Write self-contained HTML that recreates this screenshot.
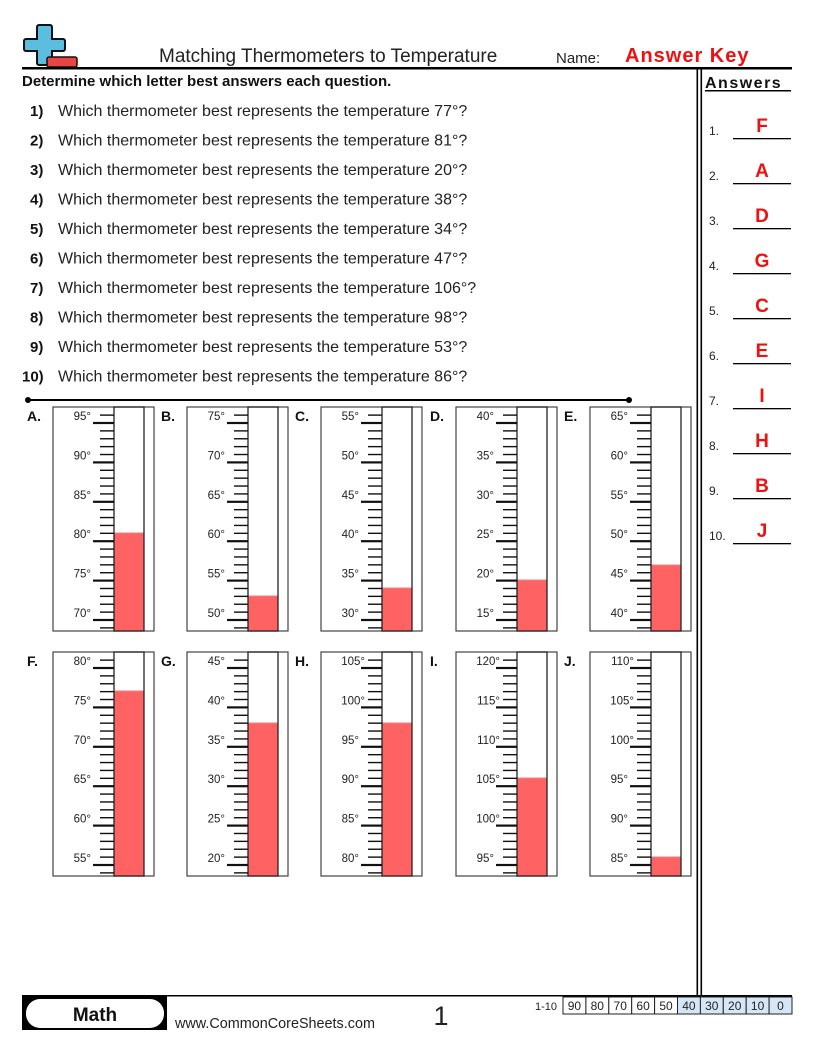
<!DOCTYPE html>
<html><head><meta charset="utf-8"><style>
body{margin:0;width:816px;height:1056px;background:#fff;overflow:hidden;font-family:"Liberation Sans",sans-serif}
svg{position:absolute;left:0;top:0}
</style></head><body>
<svg id="s" width="816" height="1056" xmlns="http://www.w3.org/2000/svg" font-family="Liberation Sans, sans-serif">
<path d="M39 25h11a2 2 0 0 1 2 2v12h11a2 2 0 0 1 2 2v8a2 2 0 0 1-2 2H52v12a2 2 0 0 1-2 2H39a2 2 0 0 1-2-2V51H26a2 2 0 0 1-2-2v-8a2 2 0 0 1 2-2h11V27a2 2 0 0 1 2-2z" fill="#5bbde0" stroke="#111" stroke-width="2"/>
<rect x="47" y="57" width="30" height="10" rx="2" fill="#e84545" stroke="#111" stroke-width="1.5"/>
<text x="159" y="62" font-size="19" fill="#222">Matching Thermometers to Temperature</text>
<text x="556" y="63" font-size="15" fill="#222">Name:</text>
<text x="625" y="62" font-size="20" font-weight="bold" fill="#f01010" letter-spacing="1">Answer Key</text>
<rect x="22" y="67" width="770" height="2.5" fill="#000"/>
<text x="22" y="86" font-size="15" font-weight="bold" fill="#111">Determine which letter best answers each question.</text>
<rect x="696.5" y="69" width="1.6" height="927" fill="#000"/>
<rect x="700.5" y="69" width="1.6" height="927" fill="#000"/>
<text x="705" y="88" font-size="16" font-weight="bold" fill="#111" letter-spacing="1.5">Answers</text>
<rect x="705" y="90" width="86" height="1.5" fill="#000"/>
<line x1="28" y1="400" x2="629" y2="400" stroke="#000" stroke-width="2"/>
<circle cx="28" cy="400" r="3"/><circle cx="629" cy="400" r="3"/>
<g id="q"></g><g id="a"></g><g id="t"></g>
<rect x="22" y="995" width="770" height="1.5" fill="#000"/>
<rect x="22" y="996" width="145" height="34" fill="#000"/>
<rect x="26" y="999" width="138" height="29" rx="14" fill="#fff"/>
<text x="95" y="1021" font-size="19" font-weight="bold" text-anchor="middle" fill="#111">Math</text>
<text x="175" y="1028" font-size="14.4" fill="#222">www.CommonCoreSheets.com</text>
<text x="441" y="1025" font-size="27" text-anchor="middle" fill="#222">1</text>
<text x="535" y="1010" font-size="11" fill="#222">1-10</text>
<g id="sc"></g>
</svg>
<script>
var NS="http://www.w3.org/2000/svg";
function el(p,t,a,txt){var e=document.createElementNS(NS,t);for(var k in a)e.setAttribute(k,a[k]);if(txt!=null)e.textContent=txt;document.getElementById(p).appendChild(e);}
var temps=[77,81,20,38,34,47,106,98,53,86];
for(var i=0;i<10;i++){var y=116+i*29.5;
el("q","text",{x:i==9?22:30,y:y,"font-size":15,"font-weight":"bold",fill:"#111"},(i+1)+")");
el("q","text",{x:58,y:y,"font-size":16,fill:"#222"},"Which thermometer best represents the temperature "+temps[i]+"°?");}
var ans="FADGCEIHBJ";
for(var i=0;i<10;i++){var y=135+i*45;
el("a","text",{x:709,y:y,"font-size":12,fill:"#222"},(i+1)+".");
el("a","text",{x:762,y:y-3,"font-size":19,"font-weight":"bold","text-anchor":"middle",fill:"#f01010"},ans[i]);
el("a","rect",{x:733,y:y+3,width:58,height:1.3,fill:"#000"});}
var L="ABCDEFGHIJ",mins=[70,50,30,15,40,55,20,80,95,85],fills=[533,596,588,580,565,691,723,723,778,857];
for(var i=0;i<10;i++){var bx=[53,187,321,456,590][i%5],by=i<5?407:652;
el("t","text",{x:bx-26,y:by+14,"font-size":14,"font-weight":"bold",fill:"#111"},L[i]+".");
el("t","rect",{x:bx,y:by,width:101,height:224,fill:"#fff",stroke:"#444","stroke-width":1.2});
var mn=mins[i];var y0=by+213;
el("t","rect",{x:bx+61,y:fills[i],width:30,height:by+224-fills[i],fill:"#ff6262",stroke:"#f08080","stroke-width":1});
el("t","rect",{x:bx+61,y:by,width:30,height:224,fill:"none",stroke:"#222","stroke-width":1.3});
for(var d=mn-1;d<=mn+26;d++){var ty=y0-(d-mn)*7.88;if(ty<by+2||ty>by+222)continue;
var maj=(d-mn)%5==0;
el("t","rect",{x:bx+(maj?40:47),y:ty-(maj?1.1:0.7),width:maj?21:14,height:maj?2.2:1.4,fill:"#111"});
if(maj&&d>=mn&&d<=mn+25)el("t","text",{x:bx+(d>=100?44:38),y:ty-3,"font-size":11.5,"text-anchor":"end",fill:"#222"},d+"°");}}
var sc=["90","80","70","60","50","40","30","20","10","0"];
for(var i=0;i<10;i++){var x=563+i*22.9;
el("sc","rect",{x:x,y:997,width:22.9,height:17,fill:i>=5?"#d6e6f7":"#fff",stroke:"#222","stroke-width":1});
el("sc","text",{x:x+11.4,y:1010,"font-size":12,"text-anchor":"middle",fill:"#222"},sc[i]);}
</script>
</body></html>
